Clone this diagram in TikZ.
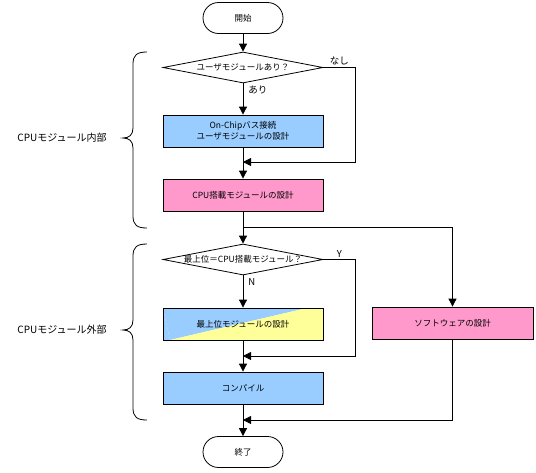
\documentclass[tikz,border=0pt]{standalone}
\usepackage{fontspec}
\setmainfont{Noto Sans CJK JP}
\usetikzlibrary{shapes.geometric,arrows.meta}
\definecolor{bxblue}{HTML}{99CCFF}
\definecolor{bxpink}{HTML}{FF99CC}
\definecolor{bxyellow}{HTML}{FFFF99}
\tikzset{
  base/.style={draw=black, line width=0.8pt, inner sep=0pt, font=\fontsize{8.5}{10.5}\selectfont, align=center},
  term/.style={base, minimum width=80pt, minimum height=31pt, rounded corners=15.5pt},
  procbox/.style={base, minimum width=160pt, minimum height=32pt},
  dia/.style={base, diamond, minimum width=160pt, minimum height=31pt},
  conn/.style={line width=0.8pt, draw=black},
  arr/.style={conn, -{Triangle[length=8pt,width=8pt]}},
  lbl/.style={font=\fontsize{9.5}{11}\selectfont, inner sep=1pt},
  sidelbl/.style={font=\fontsize{10}{12}\selectfont, inner sep=0pt},
  brace/.style={line width=0.8pt, draw=black}
}
\begin{document}
\begin{tikzpicture}[x=1pt,y=-1pt]
\useasboundingbox (0,0) rectangle (536,472);
% nodes
\node[term] (start) at (243,18) {開始};
\node[dia] (d1) at (243,67.5) {\makebox[0pt]{ユーザモジュールあり？}};
\node[procbox, fill=bxblue] (b1) at (243,131) {On-Chipバス接続\\ユーザモジュールの設計};
\node[procbox, fill=bxpink] (b2) at (243,195) {CPU搭載モジュールの設計};
\node[dia] (d2) at (243,259.5) {\makebox[0pt]{最上位＝CPU搭載モジュール？}};
\node[procbox, path picture={
  \fill[bxblue] (path picture bounding box.north west) -- ([xshift=-16pt]path picture bounding box.north east) -- ([xshift=7pt]path picture bounding box.south west) -- cycle;
  \fill[bxyellow] ([xshift=-16pt]path picture bounding box.north east) -- (path picture bounding box.north east) -- (path picture bounding box.south east) -- ([xshift=7pt]path picture bounding box.south west) -- cycle;
  \fill[bxblue] (path picture bounding box.north west) -- ([xshift=7pt]path picture bounding box.south west) -- (path picture bounding box.south west) -- cycle;
}] (b3) at (243,324) {最上位モジュールの設計};
\node[procbox, fill=bxblue] (b4) at (243,388) {コンパイル};
\node[term] (end) at (243,452) {終了};
\node[procbox, fill=bxpink, minimum width=161pt] (b5) at (452.5,323) {ソフトウェアの設計};
% side labels
\node[sidelbl] (L1) at (62,138) {CPUモジュール内部};
\node[sidelbl] (L2) at (62,330) {CPUモジュール外部};
% coordinates
\coordinate (m1) at (243,162);
\coordinate (s1) at (243,227);
\coordinate (m2) at (243,356);
\coordinate (m3) at (243,420);
% connectors
\draw[arr] (start) -- (d1);
\draw[arr] (d1) -- node[lbl, pos=0.2, right, xshift=4pt]{あり} (b1);
\draw[arr] (d1.east) -- ++(32,0) node[lbl, pos=0.5, above, yshift=1pt]{なし} |- (m1);
\draw[arr] (b1) -- (b2);
\draw[arr] (b2) -- (d2);
\draw[arr] (s1) -| (b5);
\draw[arr] (d2) -- node[lbl, pos=0.2, right, xshift=4pt]{N} (b3);
\draw[arr] (d2.east) -- ++(32,0) node[lbl, pos=0.5, above, yshift=1pt]{Y} |- (m2);
\draw[arr] (b3) -- (b4);
\draw[arr] (b4) -- (end);
\draw[arr] (b5) |- (m3);
% braces
\draw[brace] (147,52) .. controls (137,52) and (133,55) .. (133,64) -- (133,128)
  .. controls (133,135) and (129,138) .. (123,138)
  .. controls (129,138) and (133,141) .. (133,148) -- (133,216)
  .. controls (133,225) and (137,228) .. (147,228);
\draw[brace] (147,244) .. controls (137,244) and (133,247) .. (133,256) -- (133,320)
  .. controls (133,327) and (129,330) .. (123,330)
  .. controls (129,330) and (133,333) .. (133,340) -- (133,408)
  .. controls (133,417) and (137,420) .. (147,420);
\end{tikzpicture}
\end{document}
